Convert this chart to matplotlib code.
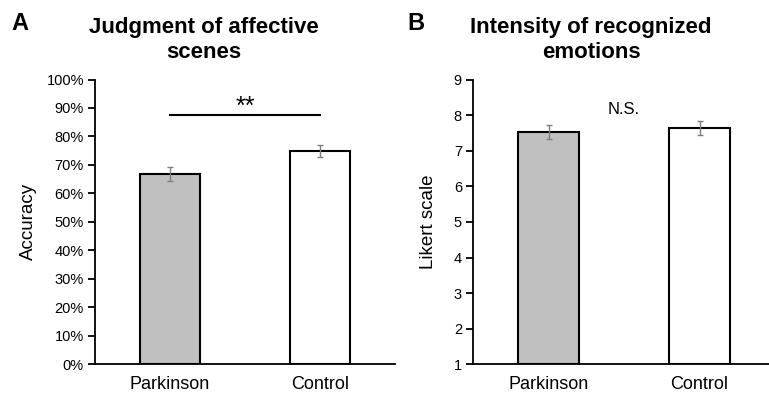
import matplotlib
matplotlib.use("Agg")
import matplotlib.pyplot as plt
from matplotlib.ticker import FuncFormatter

plt.rcParams['font.family'] = ['Liberation Sans', 'DejaVu Sans']

groups = ["Parkinson", "Control"]
accuracy = [66.8, 75.0]
accuracy_err = [2.5, 2.1]
intensity = [7.53, 7.63]
intensity_err = [0.19, 0.2]
colors = ["#c0c0c0", "#ffffff"]

W, H = 769, 395
fig = plt.figure(figsize=(W / 100, H / 100), dpi=100)

def px_ax(x0, x1, ytop, ybot):
    return fig.add_axes([x0 / W, 1 - ybot / H, (x1 - x0) / W, (ybot - ytop) / H])

axA = px_ax(95, 395, 79.5, 364.3)
axB = px_ax(473, 775, 79.5, 364.3)

x = [0, 1]
for ax, vals, errs in [(axA, accuracy, accuracy_err), (axB, intensity, intensity_err)]:
    base = 0 if ax is axA else 1
    ax.bar(x, [v - base for v in vals], bottom=base, width=0.4, color=colors,
           edgecolor="black", linewidth=1.5, zorder=2)
    ax.errorbar(x, vals, yerr=errs, fmt="none", ecolor="#7f7f7f",
                elinewidth=1.0, capsize=2.5, capthick=1.0, zorder=3)
    ax.set_xlim(-0.5, 1.5)
    ax.set_xticks(x)
    ax.set_xticklabels(groups, fontsize=13)
    ax.tick_params(axis="x", length=0, pad=8.5)
    ax.tick_params(axis="y", length=5, width=1.3, pad=3, labelsize=10.5)
    for s in ["top", "right"]:
        ax.spines[s].set_visible(False)
    for s in ["left", "bottom"]:
        ax.spines[s].set_linewidth(1.3)

axA.set_ylim(0, 100)
axA.set_yticks(range(0, 101, 10))
axA.yaxis.set_major_formatter(FuncFormatter(lambda v, p: f"{int(v)}%"))
axA.set_ylabel("Accuracy", fontsize=13.5)
axA.yaxis.set_label_coords(-0.193, 0.5)
axA.plot([0, 1], [87.7, 87.7], color="black", linewidth=1.5, clip_on=False)
axA.text(0.5, 90.3, "**", ha="center", va="center", fontsize=18)

axB.set_ylim(1, 9)
axB.set_yticks(range(1, 10))
axB.set_ylabel("Likert scale", fontsize=13.5)
axB.yaxis.set_label_coords(-0.119, 0.5)
axB.text(0.5, 8.17, "N.S.", ha="center", va="center", fontsize=12)

fig.text(204 / W, 1 - 39.5 / H, "Judgment of affective\nscenes", ha="center", va="center",
         fontsize=16, fontweight="bold", linespacing=1.25)
fig.text(591 / W, 1 - 39.5 / H, "Intensity of recognized\nemotions", ha="center", va="center",
         fontsize=16, fontweight="bold", linespacing=1.25)
fig.text(20 / W, 1 - 23 / H, "A", ha="center", va="center", fontsize=17, fontweight="bold")
fig.text(416 / W, 1 - 23 / H, "B", ha="center", va="center", fontsize=17, fontweight="bold")

fig.savefig("out.png", dpi=100)
